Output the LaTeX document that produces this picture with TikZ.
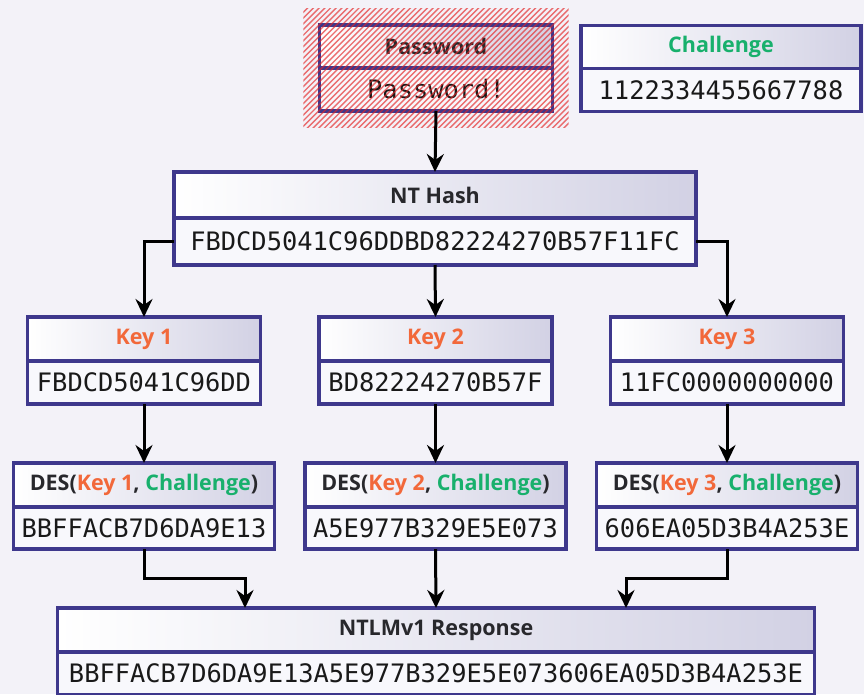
\documentclass[tikz,border=0pt]{standalone}
\usepackage{fontspec}
\setmainfont{Open Sans}
\newfontfamily\hexfont{DejaVu Sans Mono}
\usetikzlibrary{positioning,fit,arrows.meta}

\definecolor{bgcol}{RGB}{243,242,248}
\definecolor{boxline}{RGB}{62,56,140}
\definecolor{hdrright}{RGB}{210,209,228}
\definecolor{valfill}{RGB}{248,248,252}
\definecolor{hdrtext}{RGB}{40,40,44}
\definecolor{keyred}{RGB}{242,104,58}
\definecolor{chalgreen}{RGB}{24,176,108}
\definecolor{hatchred}{RGB}{228,36,36}

\begin{document}
\begin{tikzpicture}[
	x=1pt, y=-1pt,
	header/.style={
		rectangle,
		draw=boxline,
		line width=3.5pt,
		outer sep=0pt,
		inner sep=0pt,
		align=center,
		left color=white,
		right color=hdrright,
		text=hdrtext,
		font=\fontsize{21.5}{26}\selectfont\bfseries,
		minimum height=44pt
	},
	value/.style={
		rectangle,
		draw=boxline,
		line width=3.5pt,
		outer sep=0pt,
		inner sep=0pt,
		align=center,
		fill=valfill,
		text=black!90,
		font=\fontsize{25.4}{30}\selectfont\hexfont,
		minimum height=43pt
	},
	hatch/.style={
		rectangle,
		inner sep=16pt
	},
	hatchline/.style={
		hatchred,
		line width=1.4pt,
		opacity=0.65
	},
	flow/.style={
		-{Stealth[length=18pt,width=17pt,inset=6pt]},
		line width=3pt,
		black
	},
]

\useasboundingbox (0,0) rectangle (864,694);
\clip (0,0) rectangle (864,694);
\fill[bgcol] (0,0) rectangle (864,694);

% inputs
\node[header, minimum width=233pt, minimum height=43pt] (pwhead) at (436,46.5) {Password};
\node[value, minimum width=233pt, below=0pt of pwhead] (pwval) {Password!};
\node[hatch, fit=(pwhead)(pwval)] (pwmark) {};
\begin{scope}
	\clip (pwmark.south west) rectangle (pwmark.north east);
	\foreach \k in {170,175.7,...,575}
		\draw[hatchline] (\k,140) -- ++(140,-140);
\end{scope}

\node[header, minimum width=280pt, minimum height=43pt] (chhead) at (721,47) {\textcolor{chalgreen}{Challenge}};
\node[value, minimum width=280pt, below=0pt of chhead] (chval) {1122334455667788};

% hash
\node[header, minimum width=522pt, minimum height=46pt] (nthead) at (435,195) {NT Hash};
\node[value, minimum width=522pt, minimum height=47pt, below=0pt of nthead] (ntval) {FBDCD5041C96DDBD82224270B57F11FC};

\draw[flow] (pwval.south) -- (nthead.north);

% keys and DES blocks
\foreach \i/\x/\kv/\dv in {1/144/FBDCD5041C96DD/BBFFACB7D6DA9E13,
		2/435.5/BD82224270B57F/A5E977B329E5E073,
		3/727/11FC0000000000/606EA05D3B4A253E} {
	\node[header, minimum width=233pt] (key\i head) at (\x,339) {\textcolor{keyred}{Key \i}};
	\node[value, minimum width=233pt, below=0pt of key\i head] (key\i val) {\kv};
	\node[header, minimum width=261pt] (des\i head) at (\x,485) {DES(\textcolor{keyred}{Key \i}, \textcolor{chalgreen}{Challenge})};
	\node[value, minimum width=261pt, minimum height=42pt, below=0pt of des\i head] (des\i val) {\dv};
	\draw[flow] (key\i val.south) -- (des\i head.north);
}

\draw[flow] (ntval.west) -| (key1head.north);
\draw[flow] (ntval.south) -- (key2head.north);
\draw[flow] (ntval.east) -| (key3head.north);

% response
\node[header, minimum width=757pt] (resphead) at (436,630) {NTLMv1 Response};
\node[value, minimum width=757pt, below=0pt of resphead] (respval) {BBFFACB7D6DA9E13A5E977B329E5E073606EA05D3B4A253E};

\coordinate (resp1) at ([xshift=-191pt]resphead.north);
\coordinate (resp3) at ([xshift=190pt]resphead.north);

\draw[flow] (des1val.south) -- ++(0,29) -| (resp1);
\draw[flow] (des2val.south) -- (resphead.north);
\draw[flow] (des3val.south) -- ++(0,29) -| (resp3);

\end{tikzpicture}
\end{document}
